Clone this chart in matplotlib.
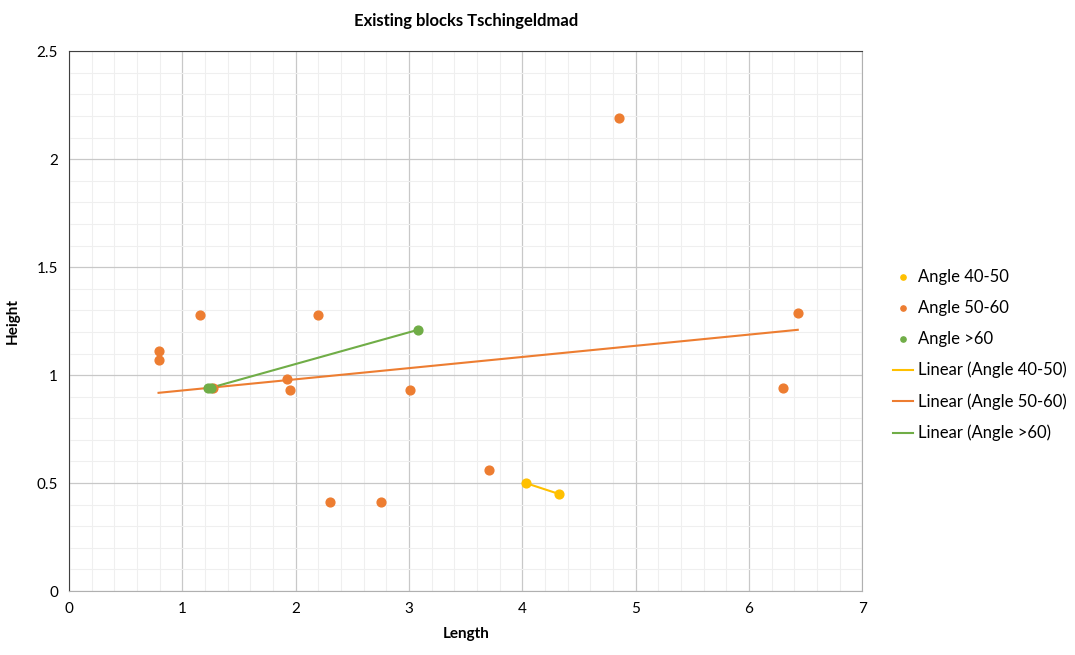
import numpy as np
import matplotlib.pyplot as plt
from matplotlib.ticker import MultipleLocator

plt.rcParams['font.family'] = ['Lato', 'DejaVu Sans']

# Block dimensions
len_40_50 = [4.03, 4.32]
hgt_40_50 = [0.50, 0.45]

len_50_60 = [0.79, 0.79, 1.16, 1.92, 1.95, 2.20, 1.27, 2.30, 2.75, 3.01, 3.71, 4.85, 6.30, 6.43]
hgt_50_60 = [1.11, 1.07, 1.28, 0.98, 0.93, 1.28, 0.94, 0.41, 0.41, 0.93, 0.56, 2.19, 0.94, 1.29]

len_60 = [1.23, 1.25, 3.08]
hgt_60 = [0.94, 0.94, 1.21]

c_yellow = '#FFC000'
c_orange = '#ED7D31'
c_green = '#70AD47'


def trend(ax, x, y, color, label):
    x = np.asarray(x)
    k, b = np.polyfit(x, y, 1)
    xs = np.array([x.min(), x.max()])
    ax.plot(xs, k * xs + b, color=color, lw=1.5, label=label, zorder=3)


fig = plt.figure(figsize=(10.75, 6.55), dpi=100)
ax = fig.add_axes([0.0642, 0.0977, 0.738, 0.824])

ax.scatter(len_40_50, hgt_40_50, s=40, color=c_yellow, label='Angle 40-50', zorder=4)
ax.scatter(len_50_60, hgt_50_60, s=40, color=c_orange, label='Angle 50-60', zorder=4)
ax.scatter(len_60, hgt_60, s=40, color=c_green, label='Angle >60', zorder=4)

trend(ax, len_40_50, hgt_40_50, c_yellow, 'Linear (Angle 40-50)')
trend(ax, len_50_60, hgt_50_60, c_orange, 'Linear (Angle 50-60)')
trend(ax, len_60, hgt_60, c_green, 'Linear (Angle >60)')

ax.set_xlim(0, 7)
ax.set_ylim(0, 2.5)
ax.xaxis.set_major_locator(MultipleLocator(1))
ax.xaxis.set_minor_locator(MultipleLocator(0.2))
ax.yaxis.set_major_locator(MultipleLocator(0.5))
ax.yaxis.set_minor_locator(MultipleLocator(0.1))
ax.grid(which='major', color='#c8c8c8', lw=0.9)
ax.grid(which='minor', color='#efefef', lw=0.8)
ax.set_axisbelow(True)
ax.tick_params(which='both', length=0, labelsize=11, pad=8)
ax.set_yticks([0, 0.5, 1, 1.5, 2, 2.5], ['0', '0.5', '1', '1.5', '2', '2.5'])

ax.spines['top'].set_color('#404040')
ax.spines['left'].set_color('#404040')
ax.spines['right'].set_color('#b0b0b0')
ax.spines['bottom'].set_color('#b0b0b0')

ax.set_xlabel('Length', fontsize=11, fontweight='bold', labelpad=8)
ax.set_ylabel('Height', fontsize=11, fontweight='bold', labelpad=12)
ax.set_title('Existing blocks Tschingeldmad', fontsize=12, fontweight='bold', pad=18)

ax.legend(loc='center left', bbox_to_anchor=(1.02, 0.437), frameon=False, fontsize=12,
          handlelength=1.2, markerscale=0.6, labelspacing=0.9, handletextpad=0.3)

fig.savefig('out.png', dpi=100)
